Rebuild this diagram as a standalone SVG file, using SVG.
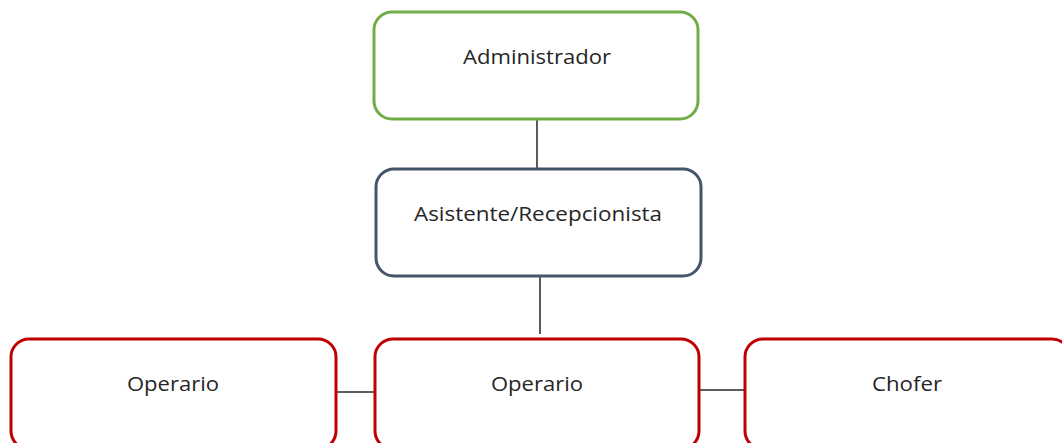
<svg xmlns="http://www.w3.org/2000/svg" width="1062" height="443" viewBox="0 0 1062 443">
<style>
.box{fill:#fff;stroke-width:3}
.g{stroke:#70AD47}
.b{stroke:#44546A}
.r{stroke:#C00000}
.t{font-family:"Open Sans","Noto Sans",sans-serif;font-size:20px;fill:#262626;text-anchor:middle;dominant-baseline:central}
.c{stroke:#262626;stroke-width:1.5;fill:none}
</style>
<rect width="1062" height="443" fill="#fff"/>
<g id="connectors">
<line class="c" x1="537" y1="120" x2="537" y2="168"/>
<line class="c" x1="540" y1="277" x2="540" y2="334"/>
<line class="c" x1="336" y1="392" x2="375" y2="392"/>
<line class="c" x1="700" y1="390" x2="744" y2="390"/>
</g>
<g id="administrador">
<rect class="box g" x="374" y="12" width="324" height="107" rx="18"/>
<text class="t" x="537" y="56" textLength="148" lengthAdjust="spacingAndGlyphs">Administrador</text>
</g>
<g id="asistente">
<rect class="box b" x="376" y="169" width="325" height="107" rx="18"/>
<text class="t" x="538" y="213" textLength="248" lengthAdjust="spacingAndGlyphs">Asistente/Recepcionista</text>
</g>
<g id="operario1">
<rect class="box r" x="11" y="339" width="325" height="110" rx="18"/>
<text class="t" x="173" y="383" textLength="92" lengthAdjust="spacingAndGlyphs">Operario</text>
</g>
<g id="operario2">
<rect class="box r" x="375" y="339" width="324" height="110" rx="18"/>
<text class="t" x="537" y="383" textLength="92" lengthAdjust="spacingAndGlyphs">Operario</text>
</g>
<g id="chofer">
<rect class="box r" x="745" y="339" width="325" height="110" rx="18"/>
<text class="t" x="907" y="383" textLength="70" lengthAdjust="spacingAndGlyphs">Chofer</text>
</g>
</svg>
